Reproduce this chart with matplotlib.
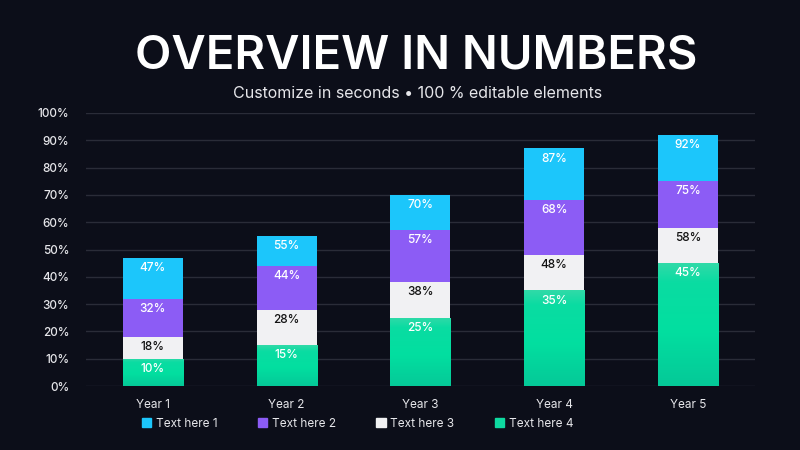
import matplotlib
matplotlib.use("Agg")
import matplotlib.pyplot as plt
import numpy as np
from matplotlib.colors import LinearSegmentedColormap

categories = ["Year 1", "Year 2", "Year 3", "Year 4", "Year 5"]
series_names = ["Text here 1", "Text here 2", "Text here 3", "Text here 4"]
# cumulative top values shown on the bars
cum_text4 = [10, 15, 25, 35, 45]
cum_text3 = [18, 28, 38, 48, 58]
cum_text2 = [32, 44, 57, 68, 75]
cum_text1 = [47, 55, 70, 87, 92]
yticks = [0, 10, 20, 30, 40, 50, 60, 70, 80, 90, 100]

BG = "#0c0e19"
C1 = "#1cc6fb"
C2 = "#8c5cf5"
C3 = "#f1f1f3"
C4 = "#0ed9a0"

plt.rcParams['font.family'] = ['Inter', 'DejaVu Sans']

fig = plt.figure(figsize=(8, 4.5), dpi=100, facecolor=BG)
ax = fig.add_axes([0.1075, 0.1422, 0.836, 0.6067], facecolor=BG)

x = np.arange(len(categories))
w = 0.45
tops = [np.array(cum_text4), np.array(cum_text3), np.array(cum_text2), np.array(cum_text1)]
bottoms = [np.zeros(5), tops[0], tops[1], tops[2]]
colors = [C4, C3, C2, C1]
txtcol = ["white", "#111111", "white", "white"]
green_cmap = LinearSegmentedColormap.from_list(
    "g", [(0.0, "#05c998"), (0.45, "#02dfa0"), (0.85, "#0adca2"), (1.0, "#30daa8")])
for k, (t, b, c, tc) in enumerate(zip(tops, bottoms, colors, txtcol)):
    if k == 0:
        bars = ax.bar(x, t - b, bottom=b, width=w, color="none", zorder=3, linewidth=0)
        for bar in bars:
            x0, y0 = bar.get_x(), bar.get_y()
            bw, bh = bar.get_width(), bar.get_height()
            grad = np.linspace(0, 1, 100).reshape(-1, 1)
            im = ax.imshow(grad, cmap=green_cmap, origin="lower", aspect="auto",
                           extent=[x0 - 0.02, x0 + bw + 0.02, y0, y0 + bh], zorder=3.1,
                           interpolation="bilinear")
            im.set_clip_path(bar)
    else:
        ax.bar(x, t - b, bottom=b, width=w, color=c, zorder=3, linewidth=0)
    for xi, ti in zip(x, t):
        ax.text(xi, ti - 1.5, f"{ti}%", ha="center", va="top", color=tc,
                fontsize=8.5, fontweight="medium", zorder=4)

ax.set_xlim(-0.5, 4.5)
ax.set_ylim(0, 100)
ax.set_yticks(yticks)
ax.set_yticklabels([f"{v}%" for v in yticks], fontweight="medium")
ax.set_xticks(x)
ax.set_xticklabels(categories)
ax.grid(axis="y", color="#2a2c38", linewidth=1, zorder=0)
ax.tick_params(axis="both", length=0, colors="#e6e6ea", labelsize=8.5)
ax.tick_params(axis="y", pad=12)
ax.tick_params(axis="x", pad=9)
for s in ax.spines.values():
    s.set_visible(False)

fig.text(0.52, 0.875, "OVERVIEW IN NUMBERS", ha="center", va="center",
         color="white", fontsize=34, fontweight="semibold")
fig.text(0.522, 0.792, "Customize in seconds \u2022 100 % editable elements", ha="center",
         va="center", color="#e6e6ea", fontsize=11.5, fontweight="normal")

handles = [plt.Rectangle((0, 0), 1, 1, color=c) for c in [C1, C2, C3, C4]]
fig.legend(handles, series_names, loc="center", bbox_to_anchor=(0.447, 0.058), ncol=4,
           frameon=False, fontsize=8.5, labelcolor="#e6e6ea", handlelength=0.8,
           handleheight=0.8, handletextpad=0.4, columnspacing=3.4)

fig.savefig("out.png", dpi=100, facecolor=BG)
